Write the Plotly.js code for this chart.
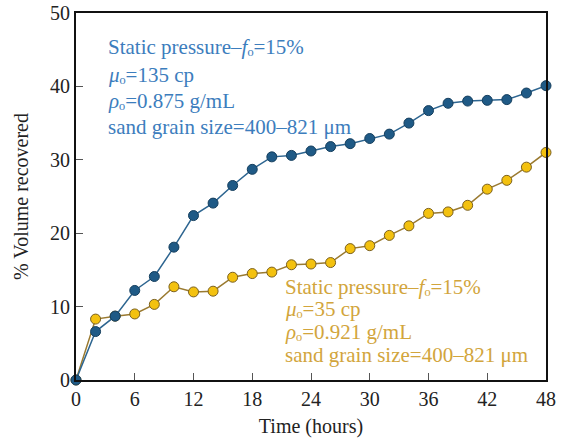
<!DOCTYPE html>
<html>
<head>
<meta charset="utf-8">
<script src="https://cdn.plot.ly/plotly-3.0.1.min.js"></script>
<style>html,body{margin:0;padding:0;background:#fff;}#chart{width:565px;height:441px;}</style>
</head>
<body>
<div id="chart"></div>
<script>
const hours = [0,2,4,6,8,10,12,14,16,18,20,22,24,26,28,30,32,34,36,38,40,42,44,46,48];
const viscous135 = [0,6.6,8.7,12.2,14.1,18.1,22.4,24.1,26.5,28.7,30.4,30.6,31.2,31.8,32.2,32.9,33.5,35.0,36.7,37.7,38.0,38.1,38.2,39.1,40.1];
const viscous35 = [0,8.3,8.7,9.0,10.3,12.7,12.0,12.1,14.0,14.5,14.7,15.7,15.8,16.0,17.9,18.3,19.7,21.0,22.7,22.9,23.8,26.0,27.2,29.0,31.0];
const xTicks = [0,6,12,18,24,30,36,42,48];
const yTicks = [0,10,20,30,40,50];
const label135 = ['Static pressure<i>–f</i>ₒ=15%', '<i>μ</i>ₒ=135 cp', '<i>ρ</i>ₒ=0.875 g/mL', 'sand grain size=400–821 μm'];
const label35 = ['Static pressure<i>–f</i>ₒ=15%', '<i>μ</i>ₒ=35 cp', '<i>ρ</i>ₒ=0.921 g/mL', 'sand grain size=400–821 μm'];

const W = 565, H = 441, mL = 76, mR = 19, mT = 13, mB = 61;
const pw = W - mL - mR, ph = H - mT - mB;
const px = x => (x - mL) / pw;
const py = y => (H - mB - y) / ph;
const FAM = 'Liberation Serif, Times New Roman, Times, serif';

const annotations = [];
const blueTop = [47, 75, 101, 127];
label135.forEach((t, i) => annotations.push({
  xref: 'paper', yref: 'paper', x: px(106), y: py(blueTop[i]), xanchor: 'left', yanchor: 'middle',
  text: t, showarrow: false, font: {family: FAM, size: 21, color: '#3c7dbd'}
}));
const yelTop = [287, 309, 332, 355];
label35.forEach((t, i) => annotations.push({
  xref: 'paper', yref: 'paper', x: px(283), y: py(yelTop[i]), xanchor: 'left', yanchor: 'middle',
  text: t, showarrow: false, font: {family: FAM, size: 21, color: '#d2a53c'}
}));

const traces = [
  {x: hours, y: viscous35, type: 'scatter', mode: 'lines+markers', cliponaxis: false,
   line: {color: '#9a7a30', width: 1.5},
   marker: {size: 10, color: '#f3c10f', line: {color: '#7a6020', width: 1}}},
  {x: hours, y: viscous135, type: 'scatter', mode: 'lines+markers', cliponaxis: false,
   line: {color: '#2d6590', width: 1.5},
   marker: {size: 10, color: '#1f5a86', line: {color: '#163f5e', width: 1}}}
];

const axFont = {family: FAM, size: 20, color: '#222'};
const layout = {
  width: W, height: H,
  margin: {l: mL, r: mR, t: mT, b: mB},
  paper_bgcolor: '#fff', plot_bgcolor: '#fff',
  showlegend: false,
  font: axFont,
  xaxis: {range: [0, 48], tickvals: xTicks, ticktext: xTicks.map(String), ticks: 'inside', ticklen: 7, tickwidth: 1, tickcolor: '#555',
          showline: true, linecolor: '#111', linewidth: 2, mirror: true, showgrid: false, zeroline: false,
          tickfont: axFont,
          title: {text: 'Time (hours)', font: axFont, standoff: 10}},
  yaxis: {range: [0, 50], tickvals: yTicks, ticktext: yTicks.map(String), ticks: 'inside', ticklen: 7, tickwidth: 1, tickcolor: '#555',
          showline: true, linecolor: '#111', linewidth: 2, mirror: true, showgrid: false, zeroline: false,
          tickfont: axFont,
          title: {text: '% Volume recovered', font: axFont, standoff: 16}},
  annotations: annotations
};

Plotly.newPlot('chart', traces, layout, {displayModeBar: false, staticPlot: true});
</script>
</body>
</html>
